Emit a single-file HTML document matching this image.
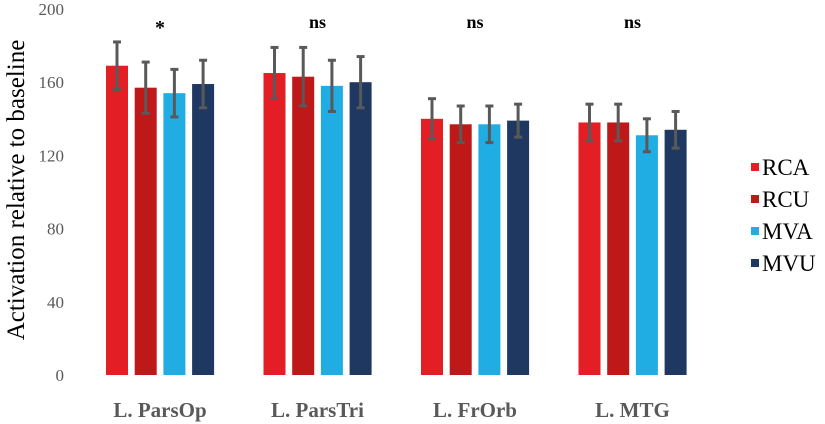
<!DOCTYPE html>
<html><head><meta charset="utf-8"><style>
body{margin:0;background:#fff}
svg{display:block}
svg text{font-family:"Liberation Serif","DejaVu Serif",serif}
</style></head><body>
<svg id="chart" width="825" height="424">
<text transform="translate(24,190) rotate(-90)" text-anchor="middle" font-size="25" fill="#000">Activation relative to baseline</text>
<g id="yticks"></g><g id="bars"></g><g id="legend"></g>
</svg>
<script>
const categories=["L. ParsOp","L. ParsTri","L. FrOrb","L. MTG"];
const sigLabels=["*","ns","ns","ns"];
const seriesNames=["RCA","RCU","MVA","MVU"];
const seriesColors=["#e31e24","#be1818","#20ade3","#1e3862"];
const RCA=[169,165,140,138];
const RCU=[157,163,137,138];
const MVA=[154,158,137,131];
const MVU=[159,160,139,134];
const errRCA=[13,14,11,10];
const errRCU=[14,16,10,10];
const errMVA=[13,14,10,9];
const errMVU=[13,14,9,10];
const yTicks=[0,40,80,120,160,200];
const values=[RCA,RCU,MVA,MVU], errs=[errRCA,errRCU,errMVA,errMVU];
const NS="http://www.w3.org/2000/svg";
const y=v=>375-v*1.83;
const gx=i=>106+i*157.5;
function mk(t,a,p){const e=document.createElementNS(NS,t);for(const k in a)e.setAttribute(k,a[k]);p.appendChild(e);return e;}
const yt=document.getElementById('yticks');
yTicks.forEach(t=>{const e=mk('text',{x:64,y:y(t)+6,'text-anchor':'end','font-size':17,fill:'#595959'},yt);


e.textContent=t;});
const bg=document.getElementById('bars');
categories.forEach((c,i)=>{
 values.forEach((s,j)=>{
  const x=gx(i)+j*28.7, w=22;
  const r=mk('rect',{x:x,y:y(s[i]),width:w,height:y(0)-y(s[i]),fill:seriesColors[j]},bg);
  
  
  const cx=x+w/2, hi=y(s[i]+errs[j][i]), lo=y(s[i]-errs[j][i]);
  const g=mk('g',{stroke:'#595959','stroke-width':3},bg);
  
  
  mk('line',{x1:cx,x2:cx,y1:hi,y2:lo},g);
  mk('line',{x1:cx-4,x2:cx+4,y1:hi,y2:hi},g);
  mk('line',{x1:cx-4,x2:cx+4,y1:lo,y2:lo},g);
 });
 const cx=gx(i)+54;
 const l=mk('text',{x:cx,y:417,'text-anchor':'middle','font-size':21,'font-weight':'bold',fill:'#595959'},bg);
 
 
 l.textContent=c;
 const s=mk('text',{x:cx,y:sigLabels[i]=='*'?34:28,'text-anchor':'middle','font-size':sigLabels[i]=='*'?20:18,'font-weight':'bold',fill:'#000'},bg);
 
 
 s.textContent=sigLabels[i];
});
const lg=document.getElementById('legend');
seriesNames.forEach((n,j)=>{
 const cy=167+j*32;
 const g=mk('g',{},lg);
 
 
 mk('rect',{x:751,y:cy-4,width:8,height:8,fill:seriesColors[j]},g);
 const t=mk('text',{x:762,y:cy+8,'font-size':23,fill:'#000'},g);
 t.textContent=n;
});
</script>
</body></html>
